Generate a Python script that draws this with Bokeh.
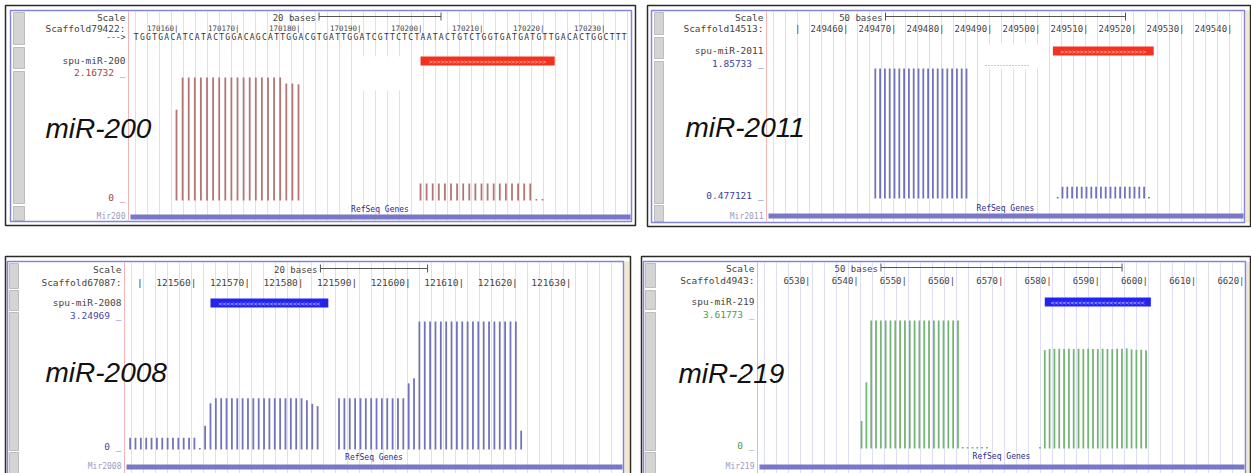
import numpy as np
from bokeh.plotting import figure
from bokeh.models import Range1d
from bokeh.core.properties import value
from bokeh.embed import file_html
from bokeh.resources import INLINE

# ---------------- DATA ----------------
# Panel 1 : miR-200
p1_title = "miR-200"
p1_scaffold = "Scaffold79422:"
p1_track = "spu-miR-200"
p1_gene = "Mir200"
p1_scale_bases = 20
p1_ticks = [170160, 170170, 170180, 170190, 170200, 170210, 170220, 170230]
p1_tick_labels = ["170160", "170170", "170180", "170190", "170200", "170210", "170220", "170230"]
p1_sequence = "TGGTGACATCATACTGGACAGCATTGGACGTGATTGGATCGTTCTCTAATACTGTCTGGTGATGATGTTGACACTGGCTTT"
p1_seq_start = 170153
p1_mirna = [170200, 170221]
p1_strand = ">"
p1_range = [0.0, 2.16732]
p1_range_labels = ["0", "2.16732"]
p1_pos = list(range(170160, 170181)) + list(range(170200, 170221))
p1_val = [1.60,
          2.16732, 2.16732, 2.16732, 2.16732, 2.16732, 2.16732, 2.16732, 2.16732, 2.16732,
          2.16732, 2.16732, 2.16732, 2.16732, 2.16732, 2.16732, 2.16732, 2.16732,
          2.06, 2.06, 2.05,
          0.30103, 0.30103, 0.30103, 0.30103, 0.30103, 0.30103, 0.30103, 0.30103, 0.30103, 0.30103,
          0.30103, 0.30103, 0.30103, 0.30103, 0.30103, 0.30103, 0.30103, 0.30103, 0.30103,
          0.0, 0.0]

# Panel 2 : miR-2011
p2_title = "miR-2011"
p2_scaffold = "Scaffold14513:"
p2_track = "spu-miR-2011"
p2_gene = "Mir2011"
p2_scale_bases = 50
p2_ticks = [249450, 249460, 249470, 249480, 249490, 249500, 249510, 249520, 249530, 249540]
p2_tick_labels = ["", "249460", "249470", "249480", "249490", "249500", "249510", "249520", "249530", "249540"]
p2_mirna = [249503, 249523]
p2_strand = ">"
p2_range = [0.477121, 1.85733]
p2_range_labels = ["0.477121", "1.85733"]
p2_pos = list(range(249466, 249486)) + list(range(249504, 249524))
p2_val = [1.85733, 1.85733, 1.85733, 1.85733, 1.85733, 1.85733, 1.85733, 1.85733, 1.85733, 1.85733,
          1.85733, 1.85733, 1.85733, 1.85733, 1.85733, 1.85733, 1.85733, 1.85733, 1.85733, 1.85733,
          0.477121,
          0.60206, 0.60206, 0.60206, 0.60206, 0.60206, 0.60206, 0.60206, 0.60206, 0.60206,
          0.60206, 0.60206, 0.60206, 0.60206, 0.60206, 0.60206, 0.60206, 0.60206, 0.60206,
          0.477121]

# Panel 3 : miR-2008
p3_title = "miR-2008"
p3_scaffold = "Scaffold67087:"
p3_track = "spu-miR-2008"
p3_gene = "Mir2008"
p3_scale_bases = 20
p3_ticks = [121550, 121560, 121570, 121580, 121590, 121600, 121610, 121620, 121630]
p3_tick_labels = ["", "121560", "121570", "121580", "121590", "121600", "121610", "121620", "121630"]
p3_mirna = [121563, 121584]
p3_strand = "<"
p3_range = [0.0, 3.24969]
p3_range_labels = ["0", "3.24969"]
p3_pos = list(range(121548, 121584)) + list(range(121587, 121622))
p3_val = [0.30103, 0.30103, 0.30103, 0.30103, 0.30103, 0.30103, 0.30103, 0.30103, 0.30103,
          0.30103, 0.30103, 0.30103, 0.30103,
          0.0, 0.60206, 1.17609,
          1.30103, 1.30103, 1.30103, 1.30103, 1.30103, 1.30103, 1.30103, 1.30103, 1.30103,
          1.30103, 1.30103, 1.30103, 1.30103, 1.30103, 1.30103, 1.30103, 1.30103,
          1.25, 1.16, 1.10,
          1.30103, 1.30103, 1.30103, 1.30103, 1.30103, 1.30103, 1.30103, 1.30103, 1.30103,
          1.30103, 1.30103, 1.30103, 1.30103,
          1.68, 1.81,
          3.24969, 3.24969, 3.24969, 3.24969, 3.24969, 3.24969, 3.24969, 3.24969, 3.24969, 3.24969,
          3.24969, 3.24969, 3.24969, 3.24969, 3.24969, 3.24969, 3.24969, 3.24969, 3.24969,
          0.47712]

# Panel 4 : miR-219
p4_title = "miR-219"
p4_scaffold = "Scaffold4943:"
p4_track = "spu-miR-219"
p4_gene = "Mir219"
p4_scale_bases = 50
p4_ticks = [6530, 6540, 6550, 6560, 6570, 6580, 6590, 6600, 6610, 6620]
p4_tick_labels = ["6530", "6540", "6550", "6560", "6570", "6580", "6590", "6600", "6610", "6620"]
p4_mirna = [6579, 6600]
p4_strand = "<"
p4_range = [0.0, 3.61773]
p4_range_labels = ["0", "3.61773"]
p4_pos = list(range(6541, 6568)) + list(range(6578, 6601))
p4_val = [0.778, 1.87,
          3.61773, 3.61773, 3.61773, 3.61773, 3.61773, 3.61773, 3.61773, 3.61773, 3.61773, 3.61773,
          3.61773, 3.61773, 3.61773, 3.61773, 3.61773, 3.61773, 3.61773, 3.61773, 3.61773,
          0.0, 0.0, 0.0, 0.0, 0.0, 0.0,
          0.0,
          2.78, 2.81, 2.82, 2.82, 2.81, 2.82, 2.81, 2.82, 2.81, 2.82, 2.81,
          2.81, 2.82, 2.81, 2.81, 2.82, 2.82, 2.83, 2.80, 2.79, 2.79, 2.78]

# ---------------- LAYOUT / STYLE ----------------
W, H = 1251, 473
MONO = value("DejaVu Sans Mono")
SANS = value("Liberation Sans")

L1 = dict(box=(5, 5, 635, 225), inner=(10, 10, 631, 221), beige=None,
          side_x=(13, 24), side_blocks=[(12, 44), (47, 68), (71, 203), (206, 220)],
          sep=128, label_r=125, data=(129, 630), ref_px=420.0, ref_g=170200, ppb=6.1,
          scale_y=17, scaf_y=28, seq_y=37, gene_y=(56, 65), gene_label_y=60,
          hi_y=72, top=77, base=200, lo_y=197, refseq_y=209, refbar=(214, 219), mir_y=216,
          name_xy=(45, 128), tick_font="7.5px", wig="#b47575", lab="#a04848",
          gene_col="#f2321e", chev="#ffc0b0",
          patches=[(355, 400, 56, 90)], dotted=None)
L2 = dict(box=(647, 5, 1250, 226), inner=(651, 10, 1244, 222), beige=(1245, 1249),
          side_x=(654, 663), side_blocks=[(12, 34), (37, 58), (61, 203), (205, 221)],
          sep=766, label_r=763, data=(767, 1243), ref_px=990.0, ref_g=249490, ppb=4.8,
          scale_y=17, scaf_y=28, seq_y=None, gene_y=(46, 55), gene_label_y=50,
          hi_y=63, top=68, base=198, lo_y=195, refseq_y=208, refbar=(213, 218), mir_y=216,
          name_xy=(685, 127), tick_font="9px", wig="#7373bd", lab="#3c3ca0",
          gene_col="#f2321e", chev="#ffc0b0",
          patches=[(980, 1038, 44, 68)], dotted=(985, 1030, 65))
L3 = dict(box=(5, 256, 630, 478), inner=(7, 261, 623, 478), beige=(624, 629),
          side_x=(9, 18), side_blocks=[(263, 288), (290, 310), (312, 450), (452, 478)],
          sep=124, label_r=121, data=(125, 622), ref_px=193.9, ref_g=121560, ppb=5.357,
          scale_y=269, scaf_y=282, seq_y=None, gene_y=(298, 307), gene_label_y=302,
          hi_y=315, top=321, base=449, lo_y=446, refseq_y=457, refbar=(464, 469), mir_y=466,
          name_xy=(45, 372), tick_font="9.5px", wig="#7373bd", lab="#4848b0",
          gene_col="#2424f0", chev="#c8c8ff",
          patches=[], dotted=None)
L4 = dict(box=(641, 256, 1250, 478), inner=(643, 261, 1245, 478), beige=(1246, 1250),
          side_x=(645, 655), side_blocks=[(263, 287), (290, 309), (312, 450), (452, 478)],
          sep=757, label_r=754, data=(758, 1244), ref_px=808.0, ref_g=6530, ppb=4.822,
          scale_y=268, scaf_y=280, seq_y=None, gene_y=(297, 306), gene_label_y=301,
          hi_y=314, top=320, base=448, lo_y=445, refseq_y=456, refbar=(464, 469), mir_y=466,
          name_xy=(678, 373), tick_font="9px", wig="#74b474", lab="#48a048",
          gene_col="#2424f0", chev="#c8c8ff",
          patches=[], dotted=None)

panels = [
    (L1, dict(title=p1_title, scaffold=p1_scaffold, track=p1_track, gene=p1_gene, scale=p1_scale_bases,
              ticks=p1_ticks, tick_labels=p1_tick_labels, seq=p1_sequence, seq_start=p1_seq_start,
              mirna=p1_mirna, strand=p1_strand, rng=p1_range, rng_labels=p1_range_labels,
              pos=p1_pos, val=p1_val)),
    (L2, dict(title=p2_title, scaffold=p2_scaffold, track=p2_track, gene=p2_gene, scale=p2_scale_bases,
              ticks=p2_ticks, tick_labels=p2_tick_labels, seq=None, seq_start=None,
              mirna=p2_mirna, strand=p2_strand, rng=p2_range, rng_labels=p2_range_labels,
              pos=p2_pos, val=p2_val)),
    (L3, dict(title=p3_title, scaffold=p3_scaffold, track=p3_track, gene=p3_gene, scale=p3_scale_bases,
              ticks=p3_ticks, tick_labels=p3_tick_labels, seq=None, seq_start=None,
              mirna=p3_mirna, strand=p3_strand, rng=p3_range, rng_labels=p3_range_labels,
              pos=p3_pos, val=p3_val)),
    (L4, dict(title=p4_title, scaffold=p4_scaffold, track=p4_track, gene=p4_gene, scale=p4_scale_bases,
              ticks=p4_ticks, tick_labels=p4_tick_labels, seq=None, seq_start=None,
              mirna=p4_mirna, strand=p4_strand, rng=p4_range, rng_labels=p4_range_labels,
              pos=p4_pos, val=p4_val)),
]

p = figure(width=W, height=H, output_backend="svg", toolbar_location=None,
           x_range=Range1d(0, W), y_range=Range1d(H, 0), min_border=0,
           x_axis_location=None, y_axis_location=None)
p.xgrid.visible = False
p.ygrid.visible = False
p.outline_line_color = None
p.background_fill_color = "white"
p.border_fill_color = "white"

xranges, yranges = {}, {}


def txt(x, y, s, size="9.5px", color="#444444", align="right", font=MONO, **kw):
    p.text(x=[x], y=[y], text=[s], text_font=font, text_font_size=value(size),
           text_color=color, text_align=align, text_baseline="middle", **kw)


for i, (L, D) in enumerate(panels):
    key = str(i + 1)
    ppb = L["ppb"]
    g_at = lambda x, L=L: L["ref_g"] + (x - L["ref_px"]) / L["ppb"]
    xr, yr = "g" + key, "v" + key
    xranges[xr] = Range1d(g_at(0), g_at(W))
    vmin, vmax = D["rng"]
    k = (vmax - vmin) / (L["base"] - L["top"])
    yranges[yr] = Range1d(vmin + (L["base"] - H) * k, vmin + L["base"] * k)

    x0, y0, x1, y1 = L["box"]
    ix0, iy0, ix1, iy1 = L["inner"]
    # panel background
    p.quad(left=[x0], right=[x1], top=[y0], bottom=[y1], fill_color="white", line_color=None)
    if L["beige"]:
        p.quad(left=[L["beige"][0]], right=[L["beige"][1]], top=[iy0], bottom=[iy1],
               fill_color="#f3e7cd", line_color=None)
    # guidelines
    dl, dr = L["data"]
    gx = np.arange(dl + 6, dr, 12.0)
    p.segment(x0=gx, y0=[iy0 + 1] * len(gx), x1=gx, y1=[iy1 - 1] * len(gx),
              line_color="#dedef6", line_width=1)
    for (a, b, c, d) in L["patches"]:
        p.quad(left=[a], right=[b], top=[c], bottom=[d], fill_color="white", line_color=None)
    if L["dotted"]:
        a, b, yy = L["dotted"]
        p.segment(x0=[a], y0=[yy], x1=[b], y1=[yy], line_color="#9a9a9a", line_dash="1 2", line_width=1)
    # separator
    p.segment(x0=[L["sep"]], y0=[iy0 + 1], x1=[L["sep"]], y1=[iy1 - 1], line_color="#f5b5b5", line_width=1)
    # sidebar
    sx0, sx1 = L["side_x"]
    for (a, b) in L["side_blocks"]:
        p.quad(left=[sx0], right=[sx1], top=[a], bottom=[b], fill_color="#d4d4d4", line_color="#bdbdbd")
    # borders
    p.quad(left=[ix0], right=[ix1], top=[iy0], bottom=[iy1], fill_color=None,
           line_color="#8484dc", line_width=1.5)
    p.quad(left=[x0], right=[x1], top=[y0], bottom=[y1], fill_color=None,
           line_color="#2a2a2a", line_width=1.5)

    lr = L["label_r"]
    txt(lr, L["scale_y"], "Scale")
    txt(lr, L["scaf_y"], D["scaffold"])
    txt(lr, L["gene_label_y"], D["track"])
    txt(lr, L["hi_y"], D["rng_labels"][1] + " _", color=L["lab"])
    txt(lr, L["lo_y"], D["rng_labels"][0] + " _", color=L["lab"])
    txt(lr, L["mir_y"], D["gene"], size="8px", color="#9c9cbc")

    # scale ruler
    gc = g_at((dl + dr) / 2.0)
    ra, rb = gc - D["scale"] / 2.0, gc + D["scale"] / 2.0
    ry = L["scale_y"] - 1
    p.segment(x0=[ra], y0=[ry], x1=[rb], y1=[ry], line_color="#555555", line_width=1, x_range_name=xr)
    p.segment(x0=[ra, rb], y0=[ry - 4, ry - 4], x1=[ra, rb], y1=[ry + 4, ry + 4],
              line_color="#555555", line_width=1, x_range_name=xr)
    p.text(x=[ra], y=[L["scale_y"]], text=["%d bases" % D["scale"]], x_offset=-3,
           text_font=MONO, text_font_size=value("9px"), text_color="#444444",
           text_align="right", text_baseline="middle", x_range_name=xr)

    # ticks
    p.text(x=D["ticks"], y=[L["scaf_y"]] * len(D["ticks"]),
           text=[t + "|" for t in D["tick_labels"]], x_offset=2,
           text_font=MONO, text_font_size=value(L["tick_font"]), text_color="#444444",
           text_align="right", text_baseline="middle", x_range_name=xr)

    # sequence
    if D["seq"]:
        txt(lr, L["seq_y"], "--->", size="8px")
        sx = [D["seq_start"] + j + 0.4 for j in range(len(D["seq"]))]
        p.text(x=sx, y=[L["seq_y"]] * len(sx), text=list(D["seq"]),
               text_font=MONO, text_font_size=value("8px"), text_color="#333333",
               text_align="center", text_baseline="middle", x_range_name=xr)

    # miRNA gene bar
    ga, gb = D["mirna"][0], D["mirna"][1] + 1
    gy0, gy1 = L["gene_y"]
    p.quad(left=[ga], right=[gb], top=[gy0], bottom=[gy1], fill_color=L["gene_col"],
           line_color=None, x_range_name=xr)
    nchev = int((gb - ga) * ppb / 4.4)
    p.text(x=[(ga + gb) / 2.0], y=[(gy0 + gy1) / 2.0 + 0.5], text=[D["strand"] * nchev],
           text_font=MONO, text_font_size=value("6.5px"), text_color=L["chev"],
           text_align="center", text_baseline="middle", x_range_name=xr)

    # wiggle bars
    vals = np.array(D["val"], dtype=float)
    tops = np.maximum(vals, vmin + 1.5 * k)
    p.vbar(x=D["pos"], width=1.8 / ppb, bottom=vmin, top=tops, fill_color=L["wig"],
           line_color=None, x_range_name=xr, y_range_name=yr)

    # RefSeq
    txt(g_at((dl + dr) / 2.0), L["refseq_y"], "RefSeq Genes", size="8px", color="#2a2a88",
        align="center", x_range_name=xr)
    r0, r1 = L["refbar"]
    p.quad(left=[dl + 1], right=[dr], top=[r0], bottom=[r1], fill_color="#7878c6", line_color=None)

    # big title
    nx, ny = L["name_xy"]
    txt(nx, ny, D["title"], size="28px", color="#111111", align="left", font=SANS,
        text_font_style="italic")

p.extra_x_ranges = xranges
p.extra_y_ranges = yranges

open("out.html", "w").write(file_html(p, INLINE))
